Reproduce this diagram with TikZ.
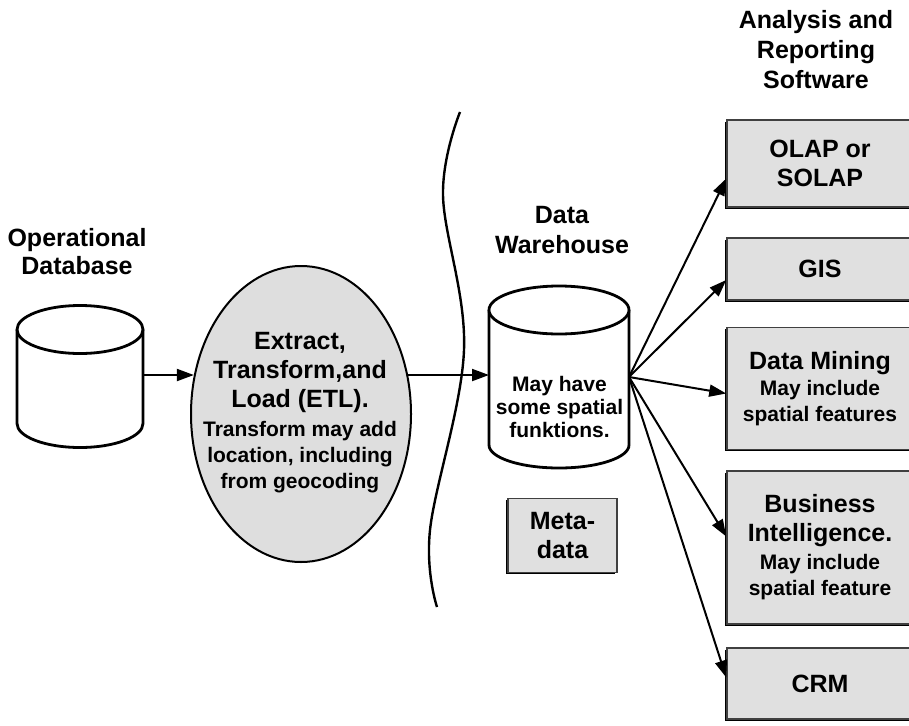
\documentclass[tikz,border=0pt]{standalone}
\usepackage{fontspec}
\setmainfont{Liberation Sans}
\usetikzlibrary{arrows.meta,shapes.geometric,shadows,calc}
\begin{document}
\begin{tikzpicture}[x=1pt,y=-1pt,
  big/.style={font=\bfseries\fontsize{25}{29}\selectfont, align=center, inner sep=0pt},
  small/.style={font=\bfseries\fontsize{21}{26}\selectfont, align=center, inner sep=0pt},
  swbox/.style={draw=black!75, line width=1.5pt, fill=black!12,
    drop shadow={shadow xshift=-1.6pt, shadow yshift=-1.6pt, fill=black, opacity=1},
    minimum width=186pt, inner sep=0pt, align=center},
  conn/.style={line width=2pt, -{Triangle[length=17pt,width=12pt]}},
  cyl/.style={line width=2.8pt},
  cylbox/.style={inner sep=0pt, outer sep=0pt},
  ]
\fill[white] (0,0) rectangle (909,725);
\useasboundingbox (0,0) rectangle (909,725);

% titles
\node (ttlsw) [big, font=\bfseries\fontsize{25}{30}\selectfont] at (816,50) {Analysis and\\Reporting\\Software};
\node (ttlop) [big, font=\bfseries\fontsize{25}{28}\selectfont] at (77,252) {Operational\\Database};
\node (ttldw) [big, font=\bfseries\fontsize{25}{30}\selectfont] at (562,230) {Data\\Warehouse};

% separator
\draw[line width=2.4pt] plot[smooth, tension=0.6] coordinates {(460,112) (443,195) (464,350) (430,530) (437,607)};

% operational database cylinder
\node (opdb) [cylbox, minimum width=126pt, minimum height=142pt] at (80,376.5) {};
\draw[cyl, fill=white] ($(opdb.north west)+(0,24)$) -- ($(opdb.south west)+(0,-24)$)
  arc[start angle=180, end angle=360, x radius=63pt, y radius=24pt]
  -- ($(opdb.north east)+(0,24)$);
\draw[cyl, fill=white] ($(opdb.north)+(0,24)$) ellipse [x radius=63pt, y radius=24pt];

% ETL ellipse
\node (etl) [ellipse, draw, line width=2pt, fill=black!13, minimum width=220pt, minimum height=296pt, inner sep=0pt] at (301,414) {};
\node (etltext) [small] at (300,413) {{\fontsize{25}{29}\selectfont Extract,}\\[3pt]{\fontsize{25}{29}\selectfont Transform,and}\\[3pt]{\fontsize{25}{29}\selectfont Load (ETL).}\\[3pt]Transform may add\\location, including\\from geocoding};

% data warehouse cylinder
\node (dw) [cylbox, minimum width=140pt, minimum height=182pt] at (559,377) {};
\draw[cyl, fill=white] ($(dw.north west)+(0,24)$) -- ($(dw.south west)+(0,-23)$)
  arc[start angle=180, end angle=360, x radius=70pt, y radius=23pt]
  -- ($(dw.north east)+(0,24)$);
\draw[cyl, fill=white] ($(dw.north)+(0,24)$) ellipse [x radius=70pt, y radius=24pt];
\node (dwtext) [small, font=\bfseries\fontsize{21}{23}\selectfont] at (559.5,407) {May have\\some spatial\\funktions.};

% metadata
\node (meta) [swbox, big, minimum width=109pt, minimum height=74pt] at (562.5,535.5) {Meta-\\data};

% software boxes
\node (olap) [swbox, big, minimum height=87pt] at (820,163.5) {OLAP or\\SOLAP};
\node (gis) [swbox, big, minimum height=62pt] at (820,269) {GIS};
\node (dm) [swbox, small, minimum height=122pt] at (820,388.5) {{\fontsize{25}{29}\selectfont Data Mining}\\May include\\spatial features};
\node (bi) [swbox, small, minimum height=153pt] at (820,547.5) {{\fontsize{25}{29}\selectfont Business}\\[3pt]{\fontsize{25}{29}\selectfont Intelligence.}\\[2pt]May include\\spatial feature};
\node (crm) [swbox, big, minimum height=71pt] at (820,683.5) {CRM};

% connectors
\draw[conn] (opdb.east |- etl.160) -- (etl.160);
\draw[conn] (etl.20) -- (etl.20 -| dw.west);
\draw[conn] (dw.east) -- ($(olap.west)+(0,15)$);
\draw[conn] (dw.east) -- ($(gis.west)+(0,11)$);
\draw[conn] (dw.east) -- ($(dm.west)+(0,5)$);
\draw[conn] (dw.east) -- ($(bi.west)+(0,-11)$);
\draw[conn] (dw.east) -- ($(crm.west)+(0,-6)$);
\end{tikzpicture}
\end{document}
